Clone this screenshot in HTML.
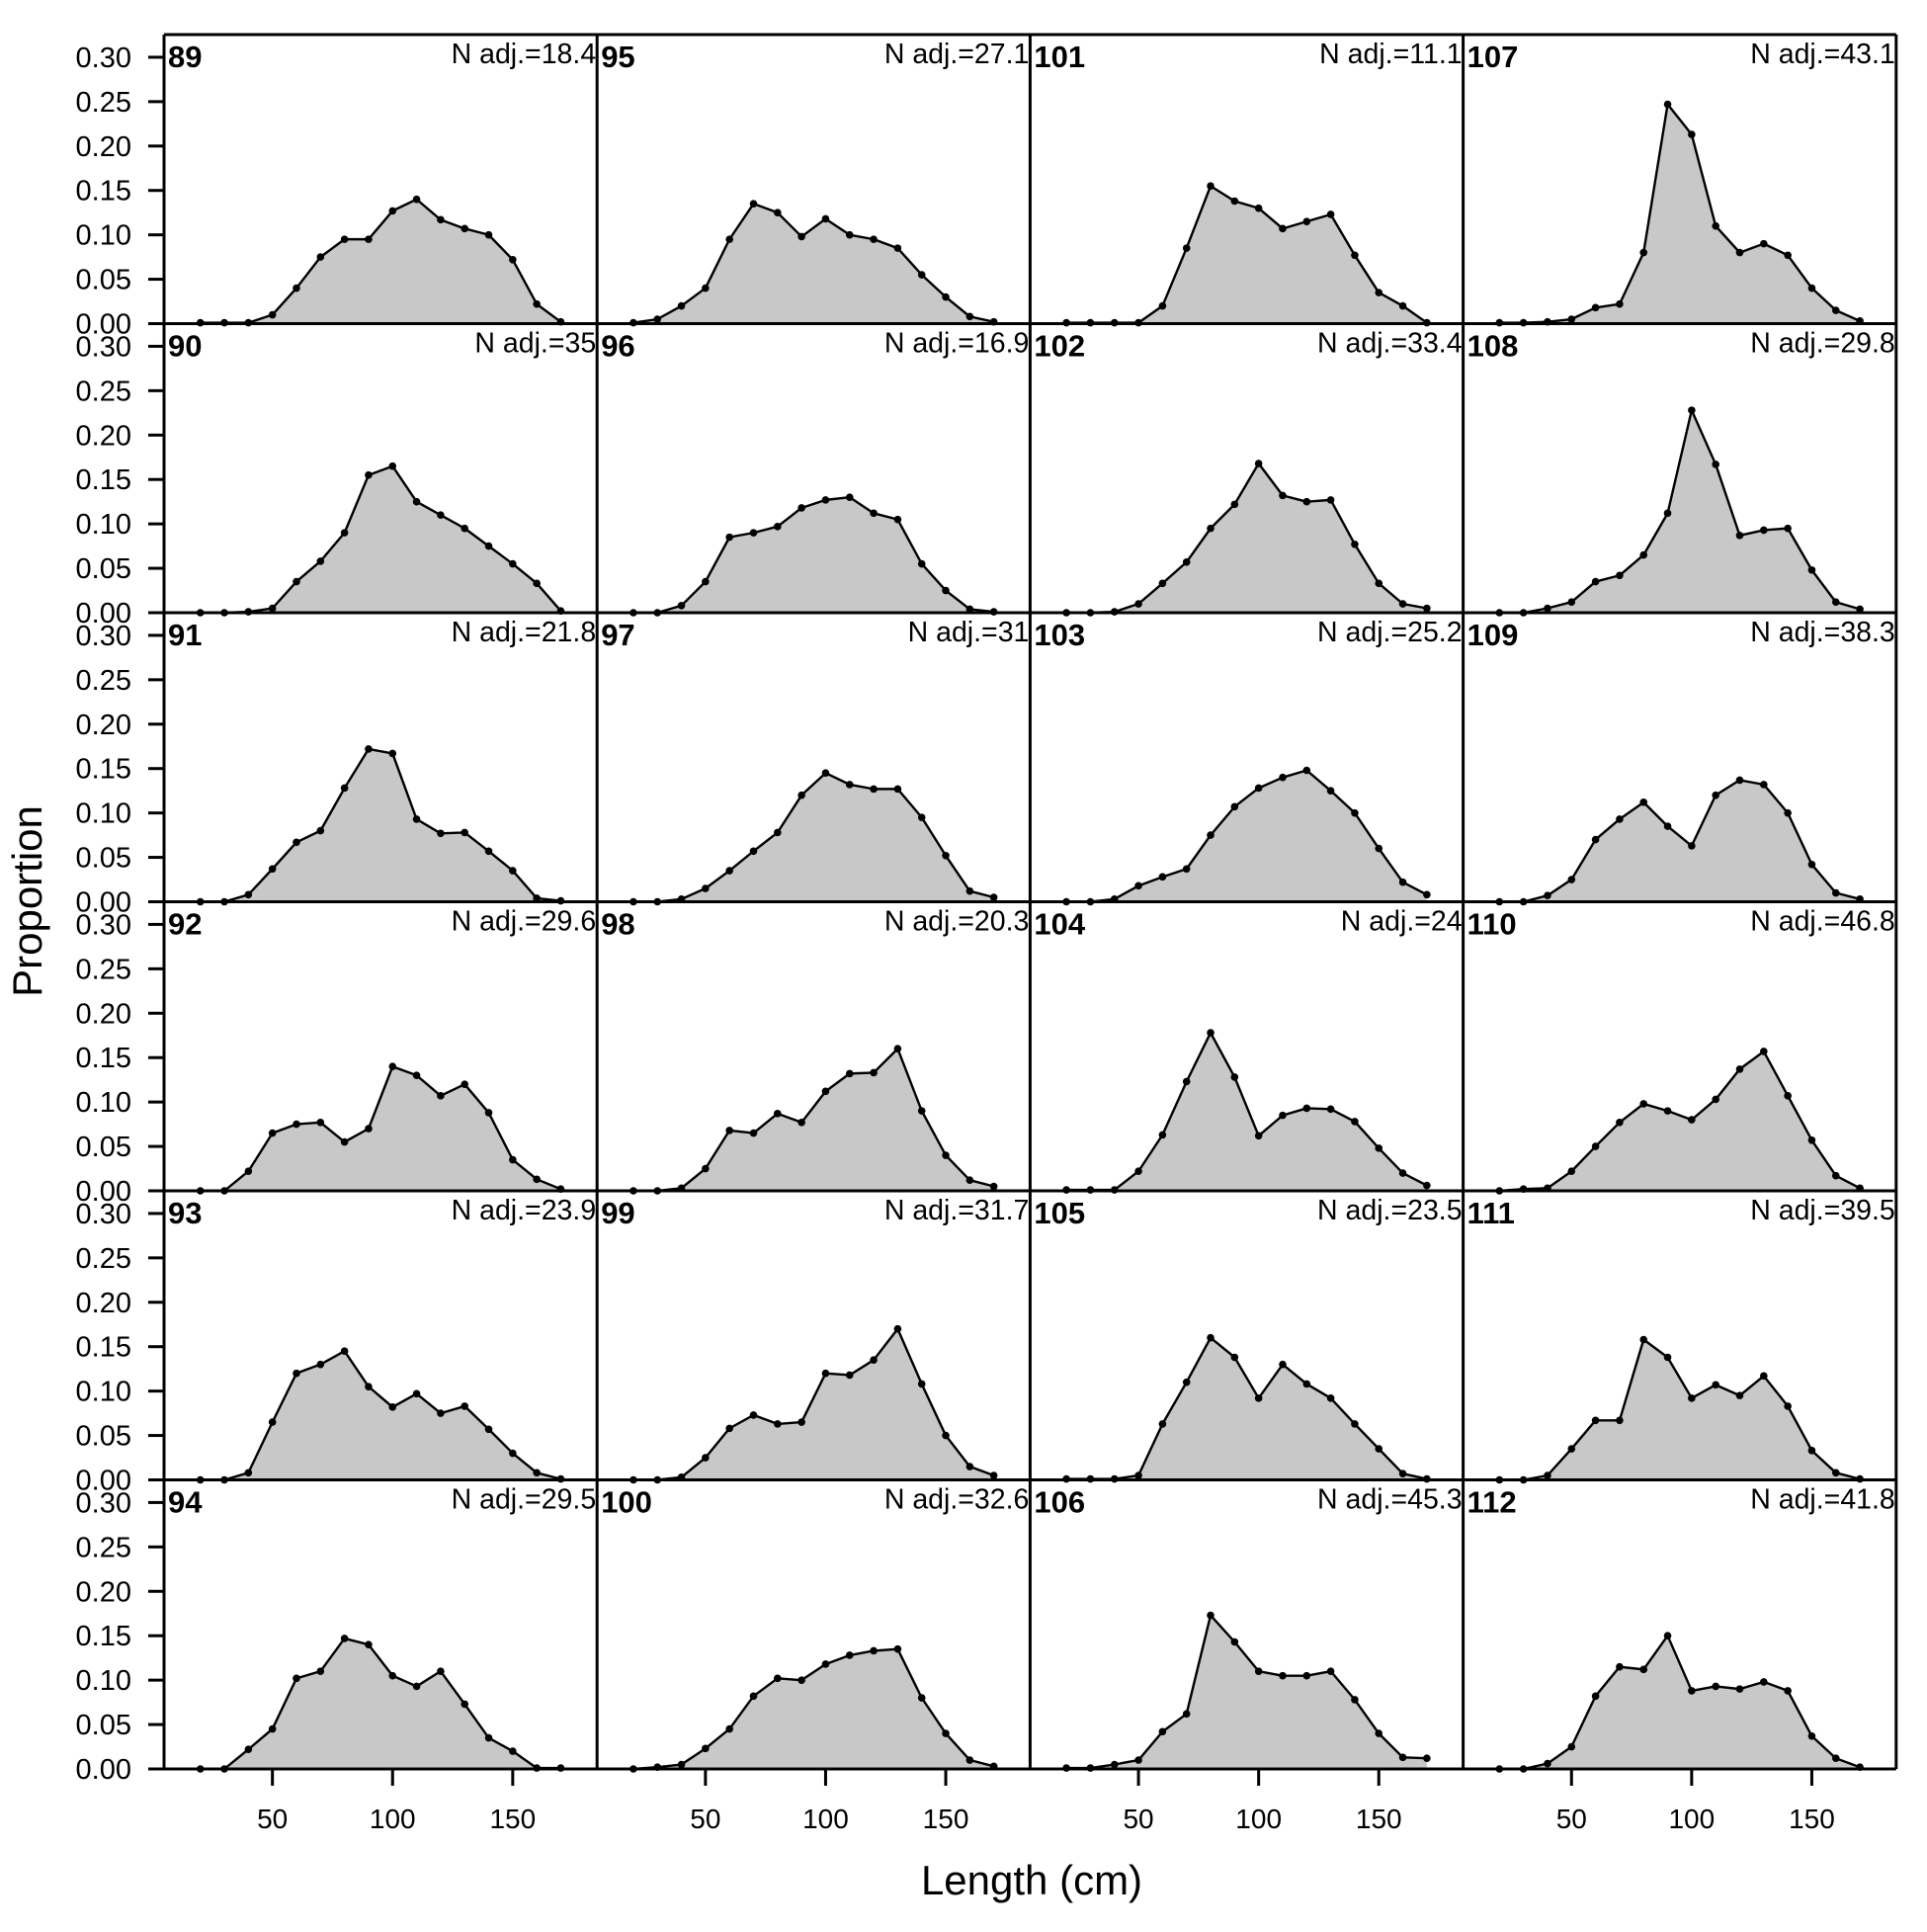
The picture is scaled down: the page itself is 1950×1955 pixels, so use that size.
<!DOCTYPE html>
<html><head><meta charset="utf-8"><style>
html,body{margin:0;padding:0;background:#fff}
svg text{font-family:"Liberation Sans",Arial,sans-serif}
</style></head><body>
<svg id="chart" xmlns="http://www.w3.org/2000/svg" width="1950" height="1950" viewBox="0 0 1950 1950">
<rect width="1950" height="1950" fill="#fff"/>
<g id="panels"></g>
<text x="1044" y="1917" font-size="42" text-anchor="middle">Length (cm)</text>
<text x="0" y="0" font-size="42" text-anchor="middle" transform="translate(42,912) rotate(-90)">Proportion</text>
</svg>
<script>
const lengths=[20,30,40,50,60,70,80,90,100,110,120,130,140,150,160,170];
const years=[89,90,91,92,93,94,95,96,97,98,99,100,101,102,103,104,105,106,107,108,109,110,111,112];
const nAdj=["18.4","35","21.8","29.6","23.9","29.5","27.1","16.9","31","20.3","31.7","32.6","11.1","33.4","25.2","24","23.5","45.3","43.1","29.8","38.3","46.8","39.5","41.8"];
const yTicks=[0,0.05,0.10,0.15,0.20,0.25,0.30];
const xTicks=[50,100,150];
const p89=[0.001,0.001,0.001,0.01,0.04,0.075,0.095,0.095,0.127,0.14,0.117,0.107,0.1,0.072,0.022,0.002];
const p90=[0,0,0.001,0.005,0.035,0.058,0.09,0.155,0.165,0.125,0.11,0.095,0.075,0.055,0.033,0.002];
const p91=[0,0,0.008,0.037,0.067,0.08,0.128,0.172,0.167,0.093,0.077,0.078,0.057,0.035,0.004,0.001];
const p92=[0,0,0.022,0.065,0.075,0.077,0.055,0.07,0.14,0.13,0.107,0.12,0.088,0.035,0.013,0.002];
const p93=[0,0,0.008,0.065,0.12,0.13,0.145,0.105,0.082,0.097,0.075,0.083,0.057,0.03,0.008,0.001];
const p94=[0,0,0.022,0.045,0.102,0.11,0.147,0.14,0.105,0.093,0.11,0.073,0.035,0.02,0.001,0.001];
const p95=[0.001,0.005,0.02,0.04,0.095,0.135,0.125,0.098,0.118,0.1,0.095,0.085,0.055,0.03,0.008,0.002];
const p96=[0,0,0.008,0.035,0.085,0.09,0.097,0.118,0.127,0.13,0.112,0.105,0.055,0.025,0.004,0.001];
const p97=[0,0,0.003,0.015,0.035,0.057,0.078,0.12,0.145,0.132,0.127,0.127,0.095,0.052,0.012,0.005];
const p98=[0,0,0.003,0.025,0.068,0.065,0.087,0.077,0.112,0.132,0.133,0.16,0.09,0.04,0.012,0.005];
const p99=[0,0,0.003,0.025,0.058,0.073,0.063,0.065,0.12,0.118,0.135,0.17,0.108,0.05,0.015,0.005];
const p100=[0,0.002,0.005,0.023,0.045,0.082,0.102,0.1,0.118,0.128,0.133,0.135,0.08,0.04,0.01,0.003];
const p101=[0.001,0.001,0.001,0.001,0.02,0.085,0.155,0.138,0.13,0.107,0.115,0.123,0.077,0.035,0.02,0.001];
const p102=[0,0,0.001,0.01,0.033,0.057,0.095,0.122,0.168,0.132,0.125,0.127,0.077,0.033,0.01,0.005];
const p103=[0,0,0.003,0.018,0.028,0.037,0.075,0.107,0.128,0.14,0.148,0.125,0.1,0.06,0.022,0.008];
const p104=[0.001,0.001,0.001,0.022,0.063,0.123,0.178,0.128,0.062,0.085,0.093,0.092,0.078,0.048,0.02,0.006];
const p105=[0.001,0.001,0.001,0.005,0.063,0.11,0.16,0.138,0.092,0.13,0.108,0.092,0.063,0.035,0.007,0.001];
const p106=[0.001,0.001,0.005,0.01,0.042,0.062,0.173,0.143,0.11,0.105,0.105,0.11,0.078,0.04,0.013,0.012];
const p107=[0.001,0.001,0.002,0.005,0.018,0.022,0.08,0.247,0.213,0.11,0.08,0.09,0.077,0.04,0.015,0.003];
const p108=[0,0,0.005,0.012,0.035,0.042,0.065,0.112,0.228,0.167,0.087,0.093,0.095,0.048,0.012,0.004];
const p109=[0,0,0.007,0.025,0.07,0.093,0.112,0.085,0.063,0.12,0.137,0.132,0.1,0.042,0.01,0.003];
const p110=[0,0.002,0.003,0.022,0.05,0.077,0.098,0.09,0.08,0.103,0.137,0.157,0.107,0.057,0.017,0.003];
const p111=[0,0,0.005,0.035,0.067,0.067,0.158,0.138,0.092,0.107,0.095,0.117,0.083,0.033,0.008,0.001];
const p112=[0,0,0.006,0.025,0.082,0.115,0.112,0.15,0.088,0.093,0.09,0.098,0.088,0.037,0.012,0.002];
const series=[p89,p90,p91,p92,p93,p94,p95,p96,p97,p98,p99,p100,p101,p102,p103,p104,p105,p106,p107,p108,p109,p110,p111,p112];

const NS="http://www.w3.org/2000/svg";
const L=166,T=35,PW=438.2,PH=292.5,XMIN=4.9,XMAX=185.1,YMAX=0.3255;
const g=document.getElementById('panels');
function mk(tag,attrs,parent){const e=document.createElementNS(NS,tag);for(const k in attrs)e.setAttribute(k,attrs[k]);(parent||g).appendChild(e);return e;}
function sx(col,v){return L+col*PW+(v-XMIN)/(XMAX-XMIN)*PW;}
function sy(row,v){return T+(row+1)*PH-v/YMAX*PH;}

years.forEach((yr,i)=>{
  const col=Math.floor(i/6),row=i%6;
  const pg=mk('g',{});
  
  
  const vals=series[i];
  let d='M'+sx(col,lengths[0])+','+sy(row,0);
  lengths.forEach((x,j)=>{d+=' L'+sx(col,x)+','+sy(row,vals[j]);});
  d+=' L'+sx(col,lengths[lengths.length-1])+','+sy(row,0)+' Z';
  const area=mk('path',{d:d,fill:'#c8c8c8',stroke:'none'},pg);
  
  
  const pts=lengths.map((x,j)=>sx(col,x)+','+sy(row,vals[j])).join(' ');
  const line=mk('polyline',{points:pts,fill:'none',stroke:'#000','stroke-width':2.4,'stroke-linejoin':'round'},pg);
  
  
  lengths.forEach((x,j)=>{
    const c=mk('circle',{cx:sx(col,x),cy:sy(row,vals[j]),r:3.8,fill:'#000'},pg);
    
    
  });
  const lab=mk('text',{x:L+col*PW+4,y:T+row*PH+33,'font-size':31,'font-weight':'bold'},pg);
  lab.textContent=yr;
  
  
  const na=mk('text',{x:L+(col+1)*PW-1,y:T+row*PH+29,'font-size':28.5,'text-anchor':'end'},pg);
  na.textContent='N adj.='+nAdj[i];
  
  
});
for(let r=0;r<6;r++){
  yTicks.forEach(t=>{
    const y=sy(r,t);
    const tk=mk('line',{x1:L-16,x2:L,y1:y,y2:y,stroke:'#000','stroke-width':3});
    
    
    const tx=mk('text',{x:L-33,y:y+10,'font-size':29,'text-anchor':'end'});
    tx.textContent=t.toFixed(2);
    
    
  });
}
const bottom=T+6*PH;
for(let c=0;c<4;c++){
  xTicks.forEach(t=>{
    const x=sx(c,t);
    const tk=mk('line',{x1:x,x2:x,y1:bottom,y2:bottom+17,stroke:'#000','stroke-width':3});
    
    
    const tx=mk('text',{x:x,y:bottom+60,'font-size':28,'text-anchor':'middle'});
    tx.textContent=t;
    
    
  });
}
for(let c=0;c<=4;c++){
  const x=L+c*PW;
  const ln=mk('line',{x1:x,x2:x,y1:T,y2:bottom,stroke:'#000','stroke-width':3});
  
  
}
for(let r=0;r<=6;r++){
  const y=T+r*PH;
  const ln=mk('line',{x1:L,x2:L+4*PW,y1:y,y2:y,stroke:'#000','stroke-width':3});
  
  
}
</script>
</body></html>
